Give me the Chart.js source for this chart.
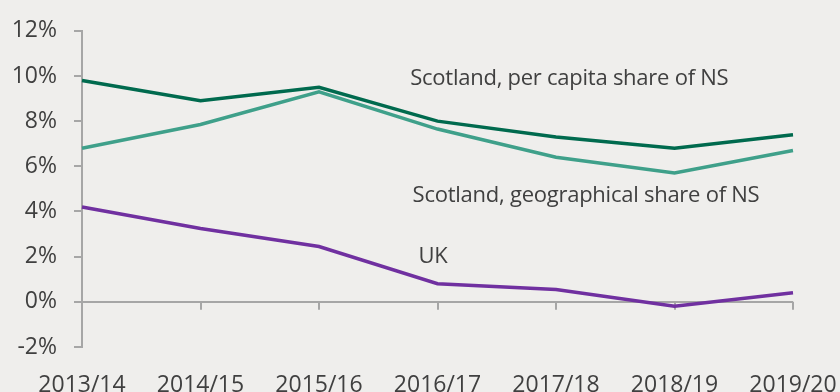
<!DOCTYPE html>
<html>
<head>
<meta charset="utf-8">
<script src="https://cdn.jsdelivr.net/npm/chart.js@4/dist/chart.umd.min.js"></script>
<style>
  html, body { margin: 0; padding: 0; background: #efeeec; }
  #wrap { width: 840px; height: 392px; position: relative; }
</style>
</head>
<body>
<div id="wrap"><canvas id="line-chart"></canvas></div>
<script>
// years on the x axis
let anni = ['2013/14', '2014/15', '2015/16', '2016/17', '2017/18', '2018/19', '2019/20'];

// growth, % a year
let perCapita = [9.8, 8.9, 9.5, 8.0, 7.3, 6.8, 7.4];
let geografica = [6.8, 7.85, 9.3, 7.65, 6.4, 5.7, 6.7];
let regnoUnito = [4.2, 3.25, 2.45, 0.8, 0.55, -0.2, 0.4];

let yTicks = [-2, 0, 2, 4, 6, 8, 10, 12];

// line labels, anchored in axis units (category index, value)
let etichette = [
    { testo: 'Scotland, per capita share of NS', x: 2.77, y: 9.6 },
    { testo: 'Scotland, geographical share of NS', x: 2.79, y: 4.4 },
    { testo: 'UK', x: 2.84, y: 1.7 }
];

const grigio = '#a6a6a6';
const testo = '#404040';

// zero line tick marks hanging under each year, plus the line labels
const extra = {
    id: 'extra',
    beforeDatasetsDraw(chart) {
        let ctx = chart.ctx, xs = chart.scales.x, ys = chart.scales.y;
        let y0 = ys.getPixelForValue(0);
        ctx.save();
        ctx.strokeStyle = grigio;
        ctx.lineWidth = 2;
        ctx.beginPath();
        for (let i = 0; i < anni.length; i++) {
            let px = Math.round(xs.getPixelForTick(i));
            ctx.moveTo(px, y0);
            ctx.lineTo(px, y0 + 8);
        }
        ctx.stroke();
        ctx.restore();
    },
    afterDatasetsDraw(chart) {
        let ctx = chart.ctx, xs = chart.scales.x, ys = chart.scales.y;
        ctx.save();
        ctx.fillStyle = testo;
        ctx.font = '22px "Open Sans"';
        ctx.letterSpacing = '-0.25px';
        ctx.textBaseline = 'alphabetic';
        ctx.textAlign = 'left';
        etichette.forEach(e => {
            ctx.fillText(e.testo, xs.getPixelForValue(e.x), ys.getPixelForValue(e.y));
        });
        ctx.restore();
    }
};

let dati = {
    labels: anni,
    datasets: [
        { label: 'Scotland, per capita share of NS', data: perCapita, borderColor: '#006a4e' },
        { label: 'Scotland, geographical share of NS', data: geografica, borderColor: '#3fa08a' },
        { label: 'UK', data: regnoUnito, borderColor: '#7030a0' }
    ]
};
dati.datasets.forEach(d => {
    d.borderWidth = 3.5;
    d.pointRadius = 0;
    d.tension = 0;
    d.fill = false;
});

let config = {
    type: 'line',
    data: dati,
    plugins: [extra],
    options: {
        responsive: false,
        animation: false,
        layout: { padding: { top: 28, right: 47, bottom: 0, left: 0 } },
        plugins: { legend: { display: false }, tooltip: { enabled: false } },
        scales: {
            x: {
                offset: false,
                grid: { display: false, drawTicks: false },
                border: { display: false },
                ticks: { color: testo, font: { family: 'Open Sans', size: 23 }, padding: 25, maxRotation: 0, autoSkip: false },
                afterFit: s => { s.height = 45; s.paddingLeft = 0; s.paddingRight = 0; }
            },
            y: {
                min: -2,
                max: 12,
                afterBuildTicks: s => { s.ticks = yTicks.map(v => ({ value: v })); },
                grid: {
                    drawOnChartArea: true,
                    color: c => (c.tick && c.tick.value === 0) ? grigio : 'rgba(0,0,0,0)',
                    tickColor: grigio,
                    tickLength: 8,
                    lineWidth: 2
                },
                border: { display: true, color: grigio, width: 2 },
                ticks: { color: testo, font: { family: 'Open Sans', size: 23 }, padding: 17, callback: v => v + '%' },
                afterFit: s => { s.width = 82; }
            }
        }
    }
};

let cv = document.getElementById('line-chart');
cv.width = 840;
cv.height = 392;
let myChart = new Chart(cv.getContext('2d'), config);
</script>
</body>
</html>
